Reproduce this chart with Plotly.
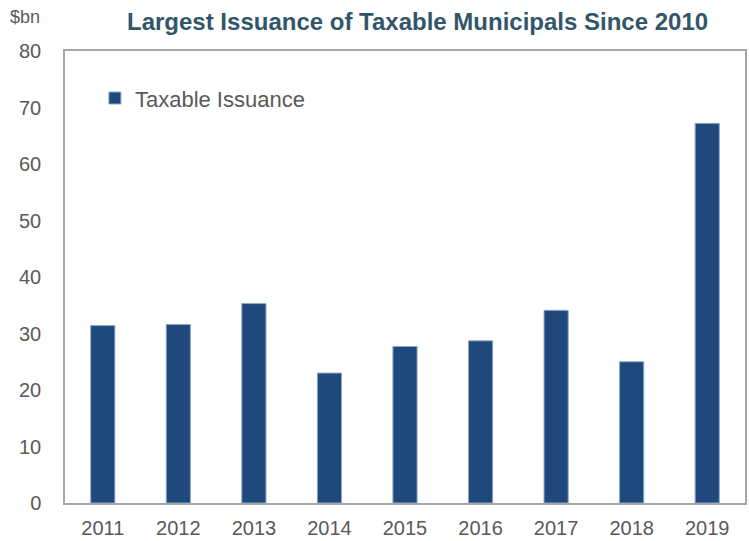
import plotly.graph_objects as go

years = ["2011", "2012", "2013", "2014", "2015", "2016", "2017", "2018", "2019"]
issuance = [31.4, 31.6, 35.3, 23.0, 27.7, 28.7, 34.1, 25.0, 67.2]
y_ticks = [0, 10, 20, 30, 40, 50, 60, 70, 80]

fig = go.Figure()
fig.add_trace(go.Bar(
    x=years, y=issuance, name="Taxable Issuance",
    marker=dict(color="#1F497D", line=dict(color="#8FA8C8", width=1)),
))

fig.update_layout(
    width=749, height=541,
    margin=dict(l=65, r=4, t=51, b=38),
    paper_bgcolor="white", plot_bgcolor="white",
    bargap=0.68,
    font=dict(family="Liberation Sans, Arial", size=20, color="#595959"),
    showlegend=True,
    legend=dict(x=0.044, y=0.942, xanchor="left", yanchor="top",
                font=dict(size=22, color="#595959"), bgcolor="rgba(0,0,0,0)",
                itemwidth=30),
)
fig.add_annotation(text="$bn", xref="paper", yref="paper", x=-0.084, y=1.075,
                   xanchor="left", yanchor="middle", showarrow=False,
                   font=dict(size=18, color="#595959"))
fig.add_annotation(text="<b>Largest Issuance of Taxable Municipals Since 2010</b>",
                   xref="paper", yref="paper", x=0.518, y=1.066,
                   xanchor="center", yanchor="middle", showarrow=False,
                   font=dict(family="Liberation Sans Narrow, Arial Narrow, Liberation Sans",
                             size=24, color="#31566A"))

fig.update_xaxes(showline=True, linecolor="#A6A6A6", linewidth=1.5, mirror=True,
                 showgrid=False, ticks="", ticklabelstandoff=6, automargin=False,
                 tickfont=dict(size=20, color="#595959"))
fig.update_yaxes(range=[0, 80], tickvals=y_ticks, showline=True, linecolor="#A6A6A6",
                 linewidth=1.5, mirror=True, showgrid=False, ticks="",
                 ticklabelstandoff=18, zeroline=False, automargin=False,
                 tickfont=dict(size=20, color="#595959"))

fig.write_html("out.html")
